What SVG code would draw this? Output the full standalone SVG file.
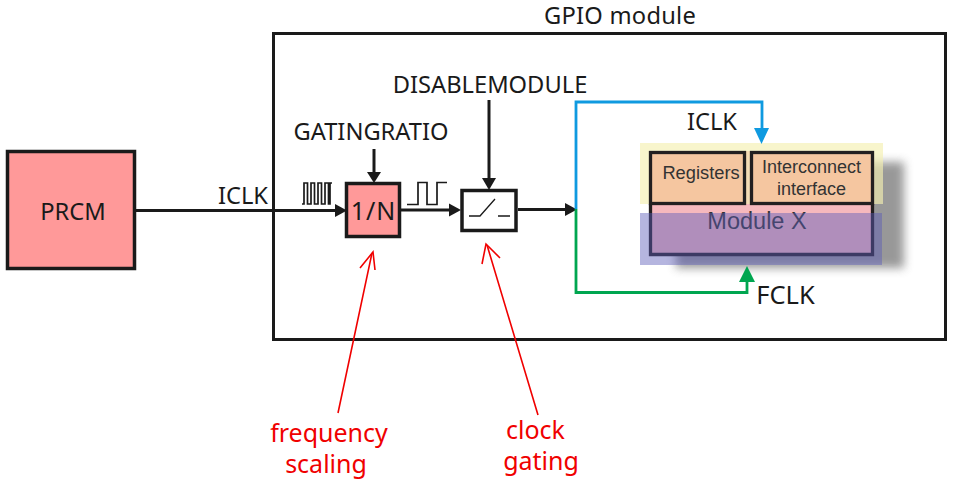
<svg xmlns="http://www.w3.org/2000/svg" width="954" height="480" viewBox="0 0 954 480">
<style>
text{font-family:"Noto Sans","Open Sans",sans-serif;fill:#1a1a1a;font-size:23.700px;text-anchor:middle}
.a{font-family:"Liberation Sans",Arial,sans-serif;fill:#333}
.red{fill:#f00000;font-size:25px}
.k{fill:none;stroke:#1a1a1a;stroke-width:3}
.t{fill:none;stroke:#1a1a1a;stroke-width:1.700}
.box{stroke:#1a1a1a;stroke-width:3.500}
.r{fill:none;stroke:#f00000;stroke-width:1.600}
</style>
<defs>
<filter id="blur" x="-10%" y="-20%" width="120%" height="140%"><feGaussianBlur stdDeviation="5"/></filter>
</defs>
<rect width="954" height="480" fill="#fff"/>
<g id="gpio-module">
<rect x="273.500" y="33.500" width="672" height="306" fill="#fff" stroke="#1a1a1a" stroke-width="3"/>
<text x="620" y="24" style="letter-spacing:.25px">GPIO module</text>
</g>
<g id="module-x">
<rect x="676" y="162" width="228" height="106" fill="#555" opacity=".6" filter="url(#blur)"/>
<rect x="650" y="151" width="222" height="104" fill="#f6b8bd"/>
<rect x="640" y="143" width="243" height="61" fill="#f5f0b0" opacity=".65"/>
<rect x="650.500" y="152.500" width="94" height="51" fill="#f5c6a0" stroke="#231f20" stroke-width="3.300"/>
<rect x="751.500" y="152.500" width="121" height="51" fill="#f5c6a0" stroke="#231f20" stroke-width="3.300"/>
<path d="M650.500 204V254.500H872.500V204" fill="none" stroke="#231f20" stroke-width="3.300"/>
<text class="a" x="701" y="179" style="font-size:18.300px">Registers</text>
<text class="a" x="811.500" y="173" style="font-size:18px">Interconnect</text>
<text class="a" x="811.500" y="195" style="font-size:18px">interface</text>
<text class="a" x="757" y="229" style="font-size:23.500px">Module X</text>
<rect x="640" y="213" width="242" height="52" fill="#5a5ab8" opacity=".45"/>
</g>
<g id="prcm">
<rect x="7.500" y="151.500" width="127" height="117" fill="#ff9999" class="box"/>
<text x="73" y="220">PRCM</text>
</g>
<g id="divider">
<rect x="346.500" y="183.500" width="53" height="53" fill="#ff9999" class="box"/>
<text x="373.500" y="220" style="font-size:25px;letter-spacing:1px">1/N</text>
</g>
<g id="gate">
<rect x="462" y="190.500" width="54" height="40" fill="#fff" class="box"/>
<path d="M469 216H480L495 199M498 216H510" fill="none" stroke="#1a1a1a" stroke-width="1.300"/>
</g>
<g id="connectors">
<path class="k" d="M135 210.500H336"/>
<path d="M335 204L347 210.500L335 217Z" fill="#1a1a1a"/>
<path class="k" d="M400 210H450"/>
<path d="M449 203.500L461 210L449 216.500Z" fill="#1a1a1a"/>
<path class="k" d="M518 209.500H566"/>
<path d="M565 203L577 209.500L565 216Z" fill="#1a1a1a"/>
<path class="k" d="M374 149V173"/>
<path d="M367 172L374 183L381 172Z" fill="#1a1a1a"/>
<path class="k" d="M489 100V180"/>
<path d="M482 178L489 190L496 178Z" fill="#1a1a1a"/>
<path d="M576 209V102H762V130" fill="none" stroke="#0f9ae0" stroke-width="2.800"/>
<path d="M754 128H769L761.500 144Z" fill="#0f9ae0"/>
<path d="M576 209V292.500H747V280" fill="none" stroke="#00a650" stroke-width="2.800"/>
<path d="M739 282H755L747 266Z" fill="#00a650"/>
<path class="t" d="M302 204H304V183H307.500V204H311V183H314.500V204H318V183H321.500V204H325V183H328.500V204H330V183H332" stroke-width="1.400"/>
<path class="t" d="M407 204.500H418V182.500H427V204.500H437V182.500H447"/>
<path class="r" d="M338 413L372 253M538 415L487 245"/>
<path class="r" d="M360 268L373 252L375 270M482 264L486 244L500 258"/>
</g>
<g id="labels">
<text x="243" y="204">ICLK</text>
<text x="371" y="140">GATINGRATIO</text>
<text x="490" y="93">DISABLEMODULE</text>
<text x="712" y="130">ICLK</text>
<text x="785.500" y="304" style="font-size:25.500px">FCLK</text>
<text class="red" x="329" y="442">frequency</text>
<text class="red" x="326" y="473">scaling</text>
<text class="red" x="535.500" y="439">clock</text>
<text class="red" x="541" y="470">gating</text>
</g>
</svg>
